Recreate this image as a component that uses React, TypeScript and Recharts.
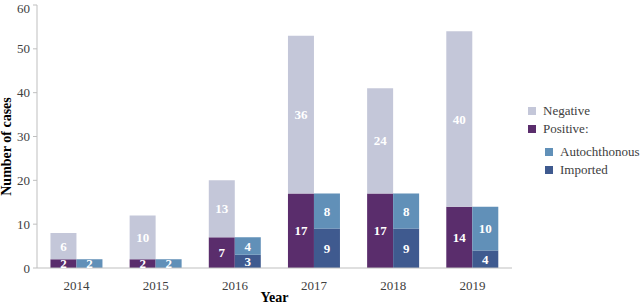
import { BarChart, Bar, XAxis, YAxis, LabelList } from 'recharts';

const years = ['2014', '2015', '2016', '2017', '2018', '2019'];
const positive = [2, 2, 7, 17, 17, 14];
const negative = [6, 10, 13, 36, 24, 40];
const imported = [0, 0, 3, 9, 9, 4];
const autochthonous = [2, 2, 4, 8, 8, 10];
const yTicks = [0, 10, 20, 30, 40, 50, 60];

const COLORS = {
  negative: '#c4c7d9',
  positive: '#5a2d6c',
  autochthonous: '#6190b8',
  imported: '#3f5a8f',
};

const data = years.map((year, i) => ({
  year,
  positive: positive[i],
  negative: negative[i],
  imported: imported[i] || null,
  autochthonous: autochthonous[i],
}));

const font = 'Liberation Serif, Tinos, Times New Roman, DejaVu Serif, serif';

const legendItems = [
  { label: 'Negative', color: COLORS.negative, indent: 0, gap: 0 },
  { label: 'Positive:', color: COLORS.positive, indent: 0, gap: 0 },
  { label: 'Autochthonous', color: COLORS.autochthonous, indent: 17, gap: 5 },
  { label: 'Imported', color: COLORS.imported, indent: 17, gap: 0 },
];

function CustomLegend() {
  return (
    <div
      style={{
        position: 'absolute',
        left: 528,
        top: 102,
        fontFamily: font,
        fontSize: 13,
        color: '#404040',
        whiteSpace: 'nowrap',
      }}
    >
      {legendItems.map((item) => (
        <div
          key={item.label}
          style={{
            display: 'flex',
            alignItems: 'center',
            marginLeft: item.indent,
            marginTop: item.gap,
            height: 18,
          }}
        >
          <span
            style={{
              width: 8,
              height: 8,
              background: item.color,
              marginRight: 7,
              display: 'inline-block',
            }}
          />
          {item.label}
        </div>
      ))}
    </div>
  );
}

const valueLabel = {
  fill: '#ffffff',
  fontFamily: font,
  fontSize: 13,
  fontWeight: 'bold',
};

export default function App() {
  return (
    <div style={{ position: 'absolute', left: 0, top: 0, width: 641, height: 305, background: '#fff' }}>
      <BarChart
        width={641}
        height={305}
        data={data}
        margin={{ top: 5, right: 129, left: 0, bottom: 0 }}
        barCategoryGap="17%"
        barGap={0}
      >
        <XAxis
          dataKey="year"
          height={37}
          tickLine={false}
          axisLine={{ stroke: '#bfbfbf' }}
          tick={{ fill: '#404040', fontFamily: font, fontSize: 13 }}
          tickMargin={7}
          label={{
            value: 'Year',
            position: 'insideBottom',
            offset: 3,
            fill: '#000',
            fontFamily: font,
            fontSize: 14,
            fontWeight: 'bold',
          }}
        />
        <YAxis
          width={37}
          domain={[0, 60]}
          ticks={yTicks}
          tickSize={4}
          tickLine={{ stroke: '#bfbfbf' }}
          axisLine={{ stroke: '#bfbfbf' }}
          tick={{ fill: '#404040', fontFamily: font, fontSize: 13 }}
          tickMargin={3}
          label={{
            value: 'Number of cases',
            angle: -90,
            position: 'insideLeft',
            offset: 6,
            dy: 10,
            style: { textAnchor: 'middle' },
            fill: '#000',
            fontFamily: font,
            fontSize: 14,
            fontWeight: 'bold',
          }}
        />
        <Bar dataKey="positive" stackId="a" fill={COLORS.positive} isAnimationActive={false}>
          <LabelList dataKey="positive" position="center" style={valueLabel} />
        </Bar>
        <Bar dataKey="negative" stackId="a" fill={COLORS.negative} isAnimationActive={false}>
          <LabelList dataKey="negative" position="center" style={valueLabel} />
        </Bar>
        <Bar dataKey="imported" stackId="b" fill={COLORS.imported} isAnimationActive={false}>
          <LabelList dataKey="imported" position="center" style={valueLabel} />
        </Bar>
        <Bar dataKey="autochthonous" stackId="b" fill={COLORS.autochthonous} isAnimationActive={false}>
          <LabelList dataKey="autochthonous" position="center" style={valueLabel} />
        </Bar>
      </BarChart>
      <CustomLegend />
    </div>
  );
}
